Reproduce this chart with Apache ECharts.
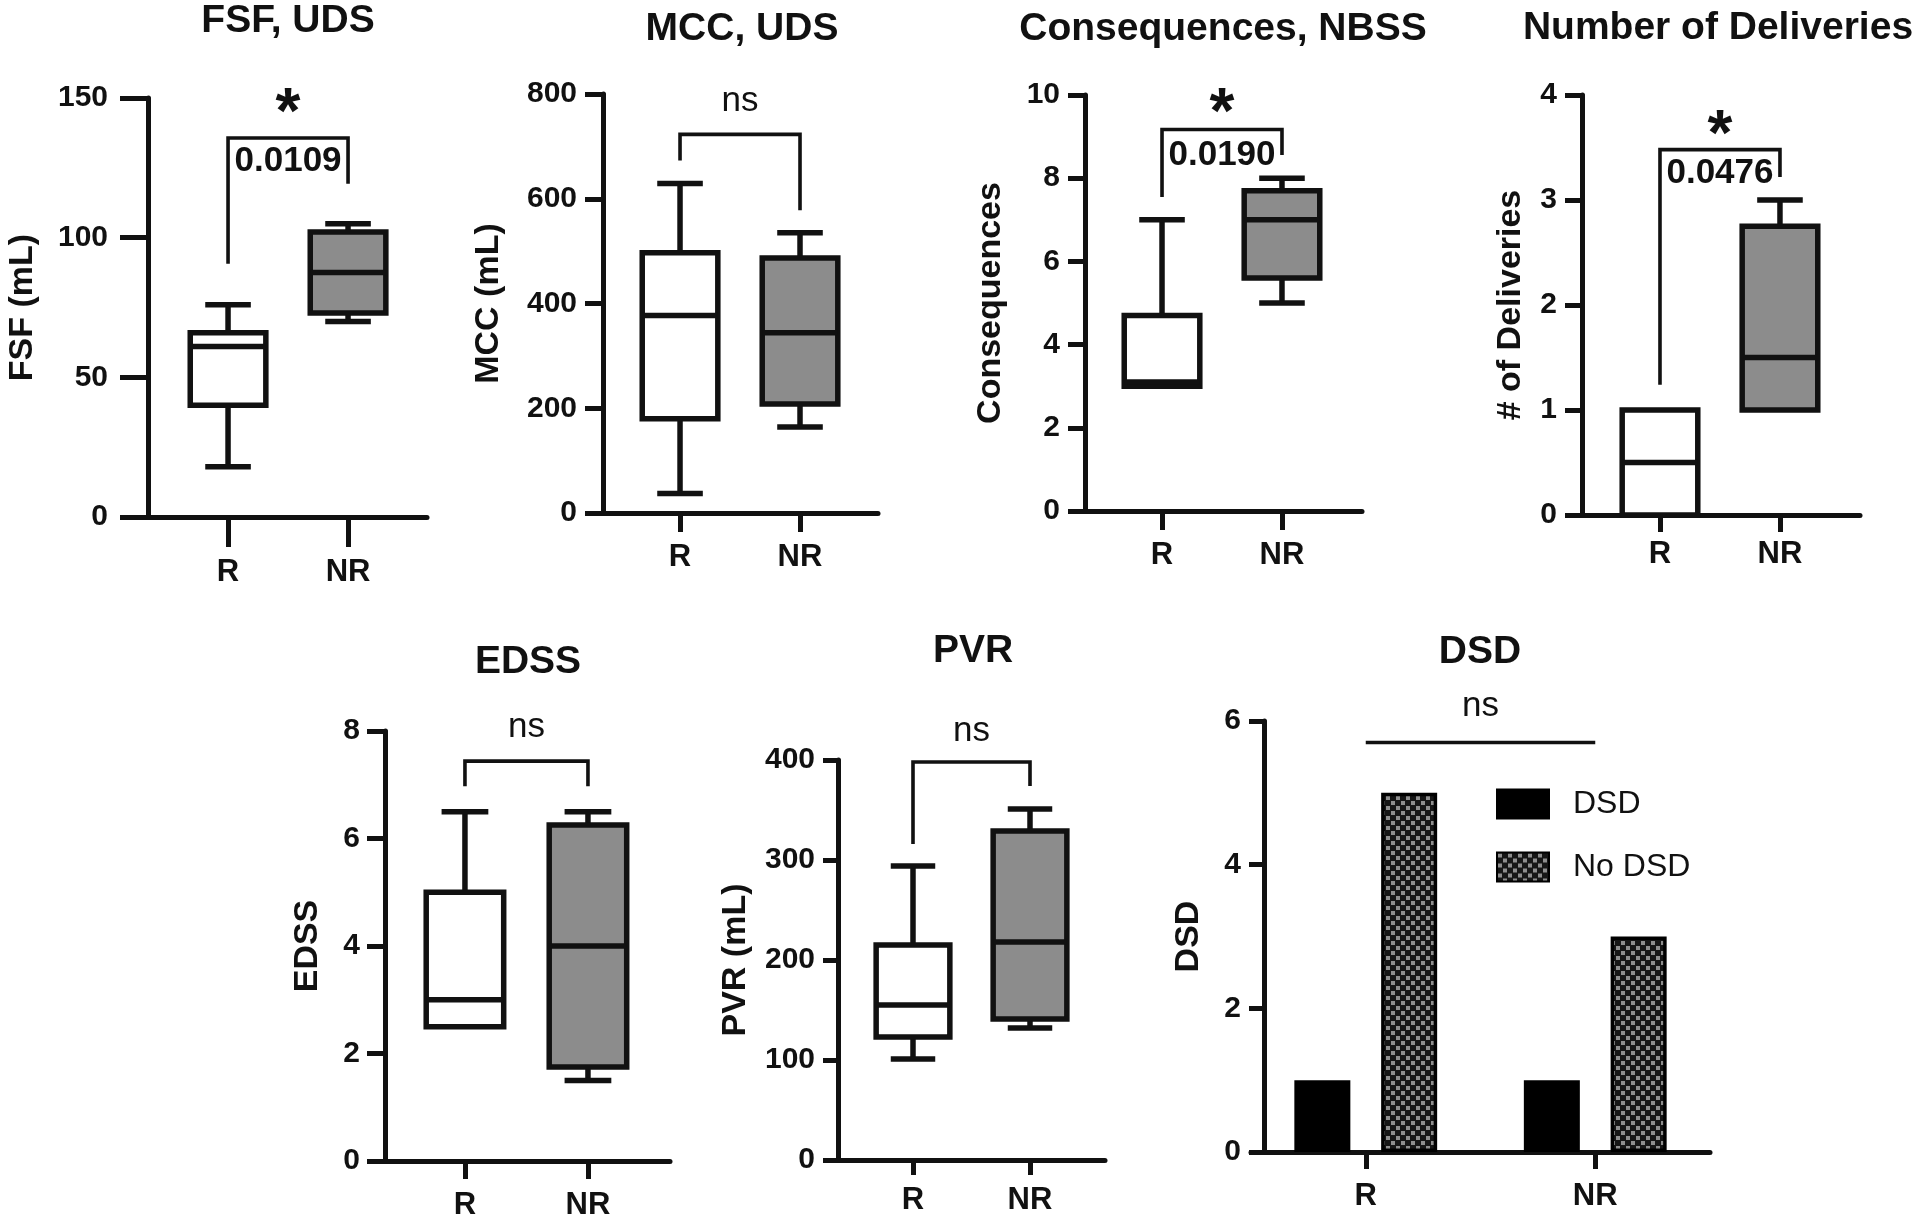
<!DOCTYPE html>
<html>
<head>
<meta charset="utf-8">
<script src="https://cdn.jsdelivr.net/npm/echarts@6/dist/echarts.min.js"></script>
<style>
html,body{margin:0;padding:0;background:#ffffff;}
#chart{width:1920px;height:1221px;}
</style>
</head>
<body>
<div id="chart"></div>
<script>
// ---------------- DATA ----------------
const groups = ['R', 'NR'];
const panelTitles = ['FSF, UDS', 'MCC, UDS', 'Consequences, NBSS', 'Number of Deliveries', 'EDSS', 'PVR', 'DSD'];
const yAxisNames = ['FSF (mL)', 'MCC (mL)', 'Consequences', '# of Deliveries', 'EDSS', 'PVR (mL)', 'DSD'];
const yMax = [150, 800, 10, 4, 8, 400, 6];
const yStep = [50, 200, 2, 1, 2, 100, 2];

// box stats: [min, Q1, median, Q3, max]
const fsfR = [18, 40, 61, 66, 76];
const fsfNR = [70, 73, 87.5, 102, 105];
const mccR = [37, 180, 377, 497, 629];
const mccNR = [164, 208, 344, 487, 535];
const consR = [3, 3, 3.1, 4.7, 7];
const consNR = [5, 5.6, 7, 7.7, 8];
const delivR = [0, 0, 0.5, 1, 1];
const delivNR = [1, 1, 1.5, 2.75, 3];
const edssR = [2.5, 2.5, 3, 5, 6.5];
const edssNR = [1.5, 1.75, 4, 6.25, 6.5];
const pvrR = [101, 123, 155, 215, 294];
const pvrNR = [132, 141, 218, 329, 351];

// DSD counts (R, NR)
const dsdYes = [1, 1];
const dsdNo = [5, 3];
const dsdSeriesNames = ['DSD', 'No DSD'];

// significance annotations (text)
const fsfNotes = ['*', '0.0109'];
const mccNotes = ['ns'];
const consNotes = ['*', '0.0190'];
const delivNotes = ['*', '0.0476'];
const edssNotes = ['ns'];
const pvrNotes = ['ns'];
const dsdNotes = ['ns'];

// ---------------- LAYOUT (positions / styles) ----------------
// bracket levels in data units: [left leg end, top, right leg end]
const bracketLevels = [
  [90.7, 135.7, 119.3],
  [673, 723, 578],
  [7.55, 9.17, 8.56],
  [1.24, 3.48, 3.22],
  [6.97, 7.44, 6.97],
  [316, 398, 374],
  [5.7, 5.7, 5.7]
];
const noteLevels = [
  [149, 127.3],
  [782],
  [9.85, 8.56],
  [3.73, 3.25],
  [8.04],
  [427],
  [6.18]
];
const LAYOUT = [
  {grid:[148, 98, 279, 419],  x:[-0.667, 1.658], yTick:28, yLabM:40, xTick:30, xLabM:40, nameGap:108, title:[288, 21]},
  {grid:[603, 94, 275, 419],  x:[-0.642, 1.65],  yTick:18, yLabM:26, xTick:19, xLabM:29, nameGap:97,  title:[742, 29]},
  {grid:[1085, 95, 277, 416], x:[-0.642, 1.667], yTick:17, yLabM:25, xTick:19, xLabM:29, nameGap:77,  title:[1223, 29]},
  {grid:[1582, 95, 278, 420], x:[-0.65, 1.667],  yTick:17, yLabM:25, xTick:17, xLabM:24, nameGap:54,  title:[1718, 28]},
  {grid:[385, 731, 285, 430], x:[-0.65, 1.667],  yTick:18, yLabM:25, xTick:18, xLabM:29, nameGap:60,  title:[528, 662]},
  {grid:[838, 760, 267, 400], x:[-0.641, 1.641], yTick:15, yLabM:23, xTick:15, xLabM:25, nameGap:85,  title:[973, 651]},
  {grid:[1251, 721, 459, 431], yTick:15, yLabM:23, xTick:17, xLabM:29, nameGap:58, title:[1480, 652], yOffset:-13}
];

const FONT = '"Liberation Sans", Arial, Helvetica, sans-serif';
const INK = '#111111';
const FILLS = ['#ffffff', '#8c8c8c'];
const BOX_W = 0.63, CAP_W = 0.38;
const BOX_LW = 5.5, AX_LW = 5, BR_LW = 3.6;

const boxSets = [[fsfR, fsfNR], [mccR, mccNR], [consR, consNR], [delivR, delivNR], [edssR, edssNR], [pvrR, pvrNR]];
const noteSets = [fsfNotes, mccNotes, consNotes, delivNotes, edssNotes, pvrNotes, dsdNotes];

function checkerPattern() {
  const cv = document.createElement('canvas');
  cv.width = 10; cv.height = 10;
  const g = cv.getContext('2d');
  g.fillStyle = '#161616'; g.fillRect(0, 0, 10, 10);
  g.fillStyle = '#8e8e8e'; g.fillRect(1, 1, 4, 4); g.fillRect(6, 6, 4, 4);
  return {image: cv, repeat: 'repeat'};
}

function boxRender(params, api) {
  const xi = api.value(0);
  const mn = api.value(1), q1 = api.value(2), md = api.value(3), q3 = api.value(4), mx = api.value(5);
  const c = v => api.coord([xi, v]);
  const half = api.size([BOX_W, 0])[0] / 2;
  const capHalf = api.size([CAP_W, 0])[0] / 2;
  const pMin = c(mn), pQ1 = c(q1), pMd = c(md), pQ3 = c(q3), pMax = c(mx);
  const cx = pMd[0];
  const ln = (x1, y1, x2, y2) => ({type:'line', shape:{x1, y1, x2, y2}, style:{stroke:INK, lineWidth:BOX_LW}});
  const ch = [];
  if (mx > q3) { ch.push(ln(cx, pQ3[1], cx, pMax[1])); ch.push(ln(cx - capHalf, pMax[1], cx + capHalf, pMax[1])); }
  if (mn < q1) { ch.push(ln(cx, pQ1[1], cx, pMin[1])); ch.push(ln(cx - capHalf, pMin[1], cx + capHalf, pMin[1])); }
  ch.push({type:'rect', shape:{x:cx - half, y:pQ3[1], width:2 * half, height:pQ1[1] - pQ3[1]},
           style:{fill:FILLS[params.dataIndex], stroke:INK, lineWidth:BOX_LW}});
  ch.push(ln(cx - half, pMd[1], cx + half, pMd[1]));
  return {type:'group', children:ch};
}

function bracketRender(params, api) {
  const a = api.coord([0, api.value(1)]);
  const b = api.coord([0, api.value(2)]);
  const c = api.coord([1, api.value(2)]);
  const d = api.coord([1, api.value(3)]);
  return {type:'polyline', shape:{points:[a, b, c, d]}, style:{stroke:INK, lineWidth:BR_LW, fill:null}};
}

function noteRenderFor(texts) {
  return function (params, api) {
    const y = api.value(1);
    const p0 = api.coord([0, y]), p1 = api.coord([1, y]);
    const t = texts[params.dataIndex];
    let size = 35, weight = 'bold', dy = 0;
    if (t === '*') { size = 64; dy = 0.22 * size; }
    else if (t === 'ns') { size = 35; weight = 'normal'; dy = -2; }
    return {type:'text', x:(p0[0] + p1[0]) / 2, y:p0[1] + dy,
            style:{text:t, fill:INK, fontSize:size, fontWeight:weight, fontFamily:FONT, align:'center', verticalAlign:'middle'}};
  };
}

const grids = [], xAxes = [], yAxes = [], series = [], titles = [];
LAYOUT.forEach((L, i) => {
  grids.push({left:L.grid[0], top:L.grid[1], width:L.grid[2], height:L.grid[3], containLabel:false});
  titles.push({text:panelTitles[i], left:L.title[0], top:L.title[1], textAlign:'center', textVerticalAlign:'middle', padding:0,
               textStyle:{fontSize:39, fontWeight:'bold', color:INK, fontFamily:FONT}});
  yAxes.push({
    gridIndex:i, type:'value', min:0, max:yMax[i], interval:yStep[i], offset:L.yOffset || 0,
    axisLine:{show:true, onZero:false, lineStyle:{color:INK, width:AX_LW}},
    axisTick:{show:true, length:L.yTick, lineStyle:{color:INK, width:AX_LW}},
    axisLabel:{margin:L.yLabM, fontSize:30, fontWeight:'bold', color:INK, fontFamily:FONT},
    splitLine:{show:false},
    name:yAxisNames[i], nameLocation:'middle', nameGap:L.nameGap, nameRotate:90,
    nameTextStyle:{fontSize:34, fontWeight:'bold', color:INK, fontFamily:FONT}
  });
  const lab = {margin:L.xLabM, fontSize:31, fontWeight:'bold', color:INK, fontFamily:FONT};
  if (i < 6) {
    xAxes.push({
      gridIndex:i, type:'value', min:L.x[0], max:L.x[1],
      axisLine:{show:true, onZero:false, lineStyle:{color:INK, width:AX_LW}},
      axisTick:{show:true, length:L.xTick, customValues:[0, 1], lineStyle:{color:INK, width:AX_LW}},
      axisLabel:Object.assign({customValues:[0, 1], formatter:v => groups[Math.round(v)]}, lab),
      splitLine:{show:false}
    });
    const d = boxSets[i].map((s, k) => [k].concat(s));
    series.push({type:'custom', xAxisIndex:i, yAxisIndex:i, renderItem:boxRender, data:d,
                 encode:{x:0, y:[1, 2, 3, 4, 5]}, z:3, clip:false});
  } else {
    xAxes.push({
      gridIndex:i, type:'category', data:groups,
      axisLine:{show:true, onZero:false, lineStyle:{color:INK, width:AX_LW}},
      axisTick:{show:true, alignWithLabel:true, length:L.xTick, lineStyle:{color:INK, width:AX_LW}},
      axisLabel:lab, splitLine:{show:false}
    });
    series.push({type:'bar', name:dsdSeriesNames[0], xAxisIndex:i, yAxisIndex:i, data:dsdYes,
                 barWidth:56, barGap:'55%', itemStyle:{color:'#000000', borderColor:'#000000', borderWidth:2}, z:3});
    series.push({type:'bar', name:dsdSeriesNames[1], xAxisIndex:i, yAxisIndex:i, data:dsdNo,
                 barWidth:56, barGap:'55%', itemStyle:{color:checkerPattern(), borderColor:'#000000', borderWidth:3.5}, z:3});
  }
  series.push({type:'custom', xAxisIndex:i, yAxisIndex:i, renderItem:bracketRender,
               data:[[0].concat(bracketLevels[i])], encode:{x:0, y:[1, 2, 3]}, z:4, clip:false, silent:true});
  series.push({type:'custom', xAxisIndex:i, yAxisIndex:i, renderItem:noteRenderFor(noteSets[i]),
               data:noteLevels[i].map(v => [0, v]), encode:{x:0, y:1}, z:5, clip:false, silent:true});
});

const chart = echarts.init(document.getElementById('chart'), null, {renderer:'canvas'});
chart.setOption({
  backgroundColor:'#ffffff',
  animation:false,
  title:titles,
  grid:grids,
  xAxis:xAxes,
  yAxis:yAxes,
  legend:{
    data:dsdSeriesNames, orient:'vertical', left:1496, top:788, padding:0,
    itemWidth:52, itemHeight:29, itemGap:31, icon:'rect', selectedMode:false,
    textStyle:{fontSize:32, color:INK, fontFamily:FONT, padding:[0, 0, 0, 19]}
  },
  series:series
});
</script>
</body>
</html>
